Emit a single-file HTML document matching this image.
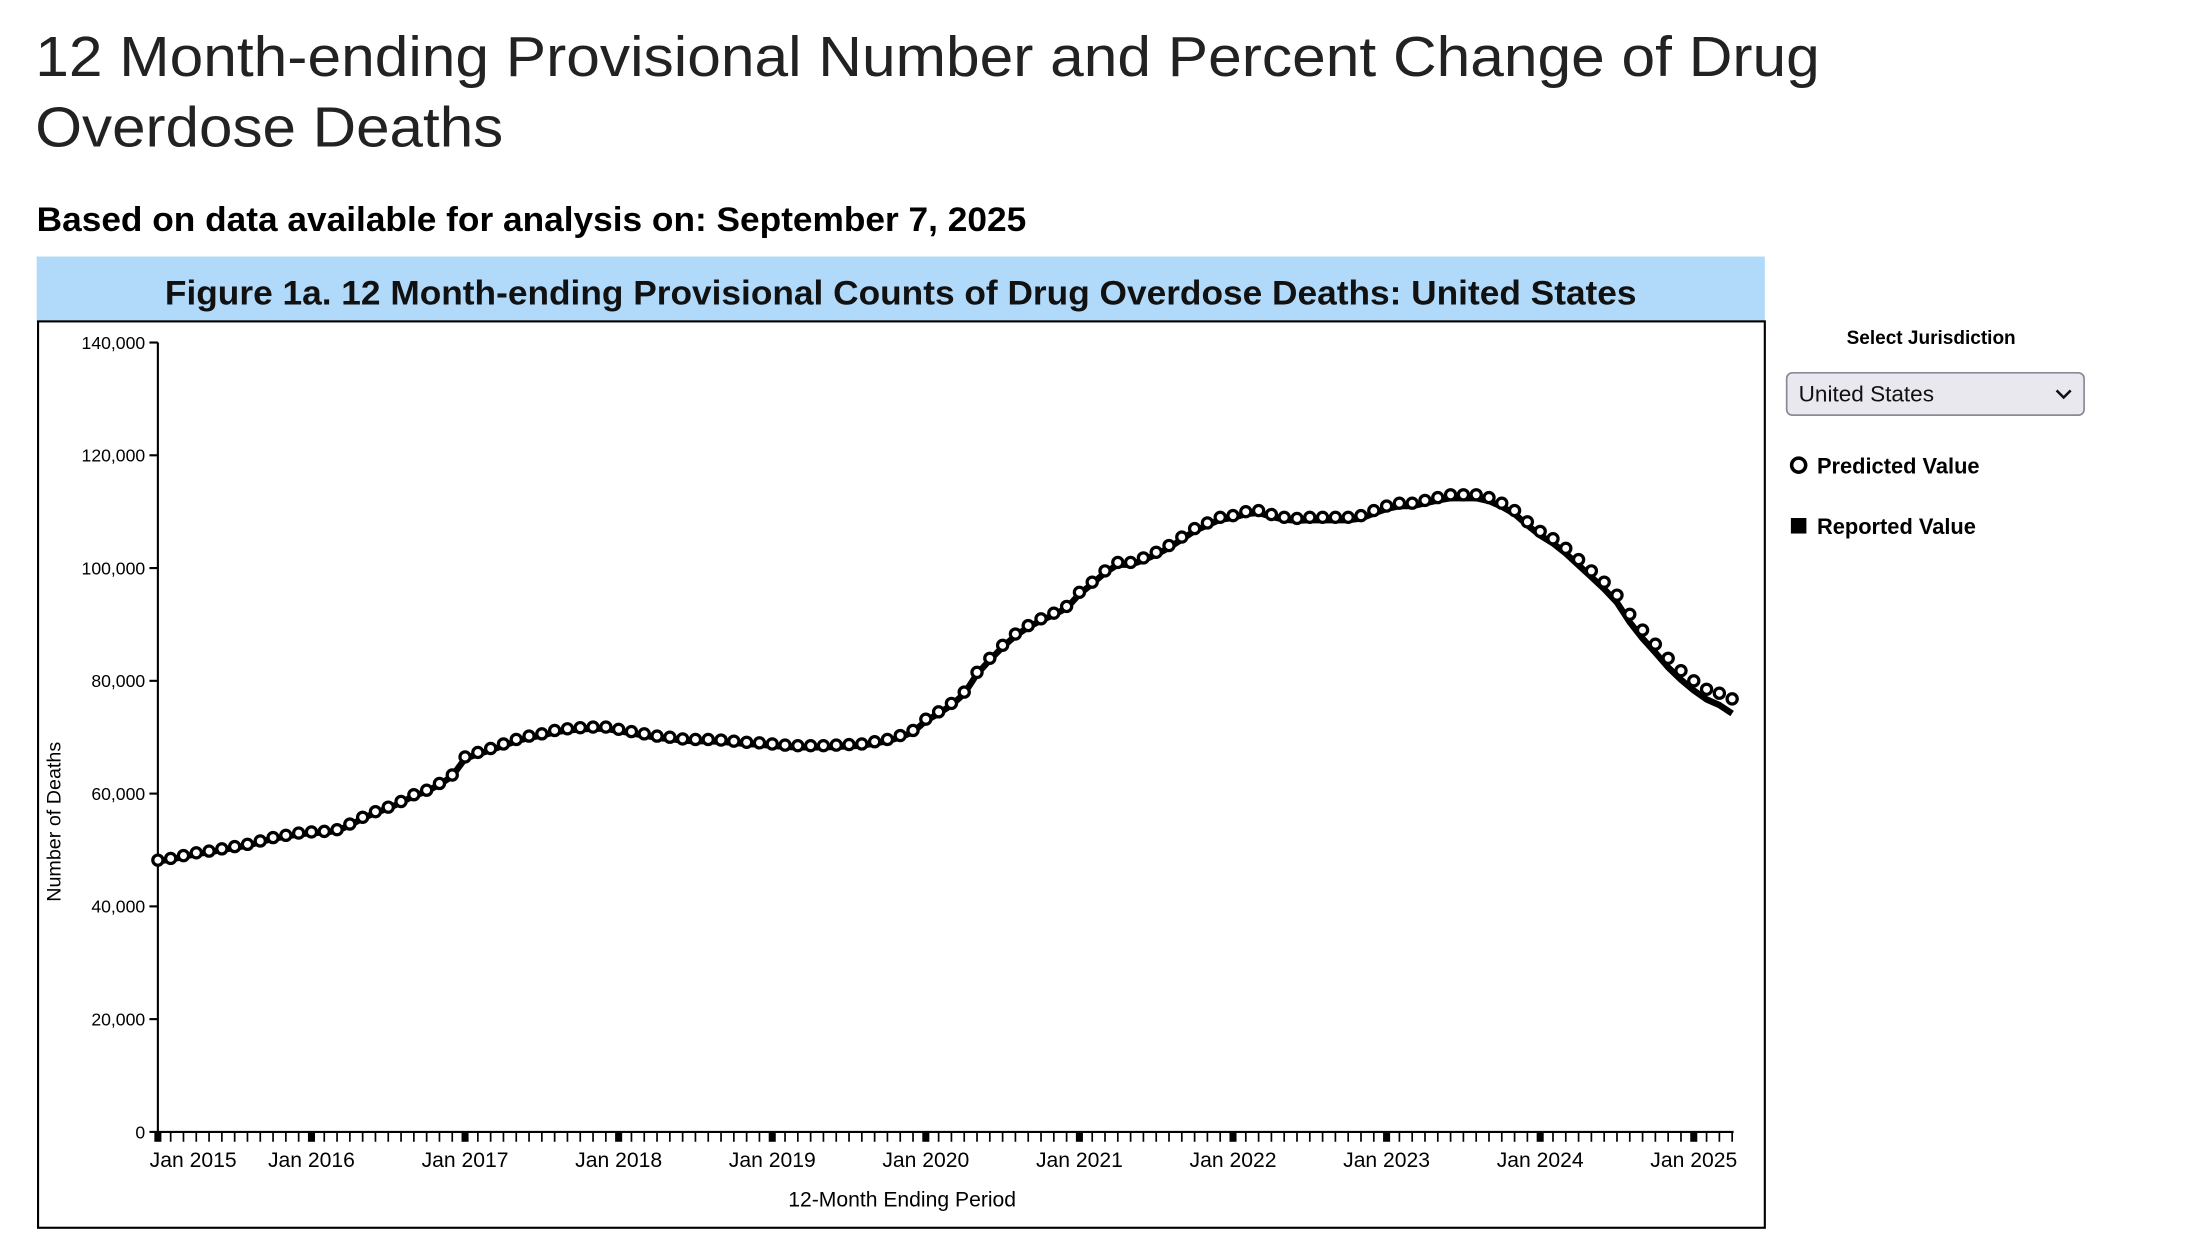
<!DOCTYPE html>
<html><head><meta charset="utf-8"><style>
html,body{margin:0;padding:0;background:#fff;width:2210px;height:1234px;overflow:hidden}
#wrap{position:absolute;left:0;top:0;width:1568px;height:876px;transform:scale(1.4096);transform-origin:0 0}
text{font-family:"Liberation Sans",sans-serif}
</style></head><body>
<div id="wrap">
<svg id="svg" width="1568" height="876" viewBox="0 0 1568 876">
<text x="25" y="54" font-size="40" fill="#222" textLength="1266" lengthAdjust="spacingAndGlyphs">12 Month-ending Provisional Number and Percent Change of Drug</text>
<text x="25" y="104" font-size="40" fill="#222" textLength="332" lengthAdjust="spacingAndGlyphs">Overdose Deaths</text>
<text x="26" y="164" font-size="24" font-weight="bold" fill="#000" textLength="702" lengthAdjust="spacingAndGlyphs">Based on data available for analysis on: September 7, 2025</text>
<rect x="26" y="182" width="1226" height="46" fill="#b0d9fa"/>
<text x="639" y="216" font-size="24" font-weight="bold" text-anchor="middle" fill="#111" textLength="1044" lengthAdjust="spacingAndGlyphs">Figure 1a. 12 Month-ending Provisional Counts of Drug Overdose Deaths: United States</text>
<rect x="27" y="228" width="1225" height="643" fill="none" stroke="#000" stroke-width="1.5"/>
<g id="yaxis"></g>
<g id="xaxis"></g>
<text transform="translate(43,583) rotate(-90)" font-size="14" text-anchor="middle">Number of Deaths</text>
<text x="640" y="856" font-size="15" text-anchor="middle">12-Month Ending Period</text>
<g id="series"></g>
<text x="1370" y="244" font-size="13.5" font-weight="bold" text-anchor="middle">Select Jurisdiction</text>
<g>
<rect x="1267.5" y="264.5" width="211" height="30" rx="4" fill="#e9e8ee" stroke="#8a8a96" stroke-width="1.2"/>
<text x="1276" y="285" font-size="16" fill="#111">United States</text>
<path d="M1459 277 l5 5 l5 -5" fill="none" stroke="#111" stroke-width="1.8"/>
</g>
<g>
<circle cx="1276" cy="330" r="5" fill="#fff" stroke="#000" stroke-width="2.5"/>
<text x="1289" y="336" font-size="15.5" font-weight="bold">Predicted Value</text>
</g>
<g>
<rect x="1270.5" y="367.5" width="11" height="11" fill="#000"/>
<text x="1289" y="379" font-size="15.5" font-weight="bold">Reported Value</text>
</g>
</svg>
</div>
<script>
const startYear = 2015;
const yTicks = [0,20000,40000,60000,80000,100000,120000,140000];
const yTickLabels = ["0","20,000","40,000","60,000","80,000","100,000","120,000","140,000"];
const xTickLabels = ["Jan 2015","Jan 2016","Jan 2017","Jan 2018","Jan 2019","Jan 2020","Jan 2021","Jan 2022","Jan 2023","Jan 2024","Jan 2025"];
const predicted = [
48.2,48.5,49,49.5,49.8,50.2,50.6,51,51.6,52.2,52.6,53,
53.2,53.3,53.6,54.6,55.8,56.8,57.6,58.6,59.8,60.6,61.8,63.3,
66.5,67.3,68,68.8,69.6,70.2,70.6,71.2,71.5,71.7,71.8,71.8,
71.4,71,70.6,70.2,70,69.7,69.6,69.6,69.5,69.3,69.1,69,
68.8,68.6,68.5,68.5,68.5,68.6,68.7,68.8,69.2,69.6,70.3,71.2,
73.2,74.5,76,78,81.5,84,86.3,88.3,89.8,91,92,93.2,
95.7,97.5,99.5,101,101,101.8,102.8,104,105.5,107,108,109,
109.3,110,110.2,109.5,109,108.8,109,109,109,109,109.3,110.2,
111,111.5,111.5,112,112.5,113,113,113,112.5,111.5,110.2,108.2,
106.5,105.2,103.5,101.5,99.5,97.5,95.2,91.8,89,86.5,84,81.8,
80,78.5,77.8,76.8];
const reported = [
48,48.3,48.8,49.3,49.6,50,50.4,50.8,51.4,52,52.4,52.8,
53,53.1,53.4,54.4,55.6,56.6,57.4,58.4,59.6,60.4,61.6,63.1,
66.2,67,67.7,68.5,69.3,69.9,70.3,70.9,71.2,71.4,71.5,71.5,
71.1,70.7,70.3,69.9,69.7,69.4,69.3,69.3,69.2,69,68.8,68.7,
68.5,68.3,68.2,68.2,68.2,68.3,68.4,68.5,68.9,69.3,70,70.9,
72.9,74.2,75.7,77.7,81.2,83.7,86,88,89.5,90.7,91.7,92.9,
95.4,97.2,99.2,100.6,100.6,101.4,102.4,103.6,105.1,106.6,107.6,108.6,
108.9,109.6,109.8,109.1,108.6,108.4,108.5,108.5,108.5,108.5,108.8,109.7,
110.5,111,111,111.5,112,112.4,112.4,112.4,111.9,110.9,109.6,107.6,
105.8,104.4,102.6,100.5,98.4,96.3,93.9,90.4,87.5,85,82.4,80.2,
78.3,76.7,75.7,74.2];
const NS='http://www.w3.org/2000/svg';
const X0=112, MONTHW=9.08, Y0=803, YTOP=243;
function xScale(i){return X0+i*MONTHW;}
function yScale(v){return Y0-(v/140000)*(Y0-YTOP);}
function mk(tag,attrs,parent){const e=document.createElementNS(NS,tag);for(const k in attrs)e.setAttribute(k,attrs[k]);parent.appendChild(e);return e;}
const ya=document.getElementById('yaxis');
mk('line',{x1:X0,y1:YTOP,x2:X0,y2:Y0,stroke:'#000','stroke-width':1.5},ya);
yTicks.forEach((t,i)=>{
  const y=yScale(t);
  const tl=mk('line',{x1:X0-6,y1:y,x2:X0,y2:y,stroke:'#000','stroke-width':1.5},ya);
  
  
  const tx=mk('text',{x:X0-9,y:y+4.5,'font-size':12.5,'text-anchor':'end'},ya);
  
  
  tx.textContent=yTickLabels[i];
});
const xa=document.getElementById('xaxis');
const n=predicted.length;
mk('line',{x1:X0,y1:Y0,x2:xScale(n-1)+1,y2:Y0,stroke:'#000','stroke-width':1.5},xa);
for(let i=0;i<n;i++){
  const x=xScale(i);
  const major=i%12===0;
  const t=mk('rect',{x:major?x-2.5:x-0.6,y:Y0,width:major?5:1.2,height:7,fill:'#000'},xa);
  
  
}
xTickLabels.forEach((l,k)=>{
  let x=xScale(k*12); if(k===0)x+=25;
  const tx=mk('text',{x:x,y:828,'font-size':15,'text-anchor':'middle'},xa);
  
  
  tx.textContent=l;
});
const sg=document.getElementById('series');
const d=reported.map((v,i)=>(i?'L':'M')+xScale(i).toFixed(1)+' '+yScale(v*1000).toFixed(1)).join(' ');
const line=mk('path',{d:d,fill:'none',stroke:'#000','stroke-width':4.5,'stroke-linejoin':'round'},sg);


predicted.forEach((v,i)=>{
  const c=mk('circle',{cx:xScale(i),cy:yScale(v*1000),r:3.6,fill:'#fff',stroke:'#000','stroke-width':2.3},sg);
  
  
});
</script>
</body></html>
